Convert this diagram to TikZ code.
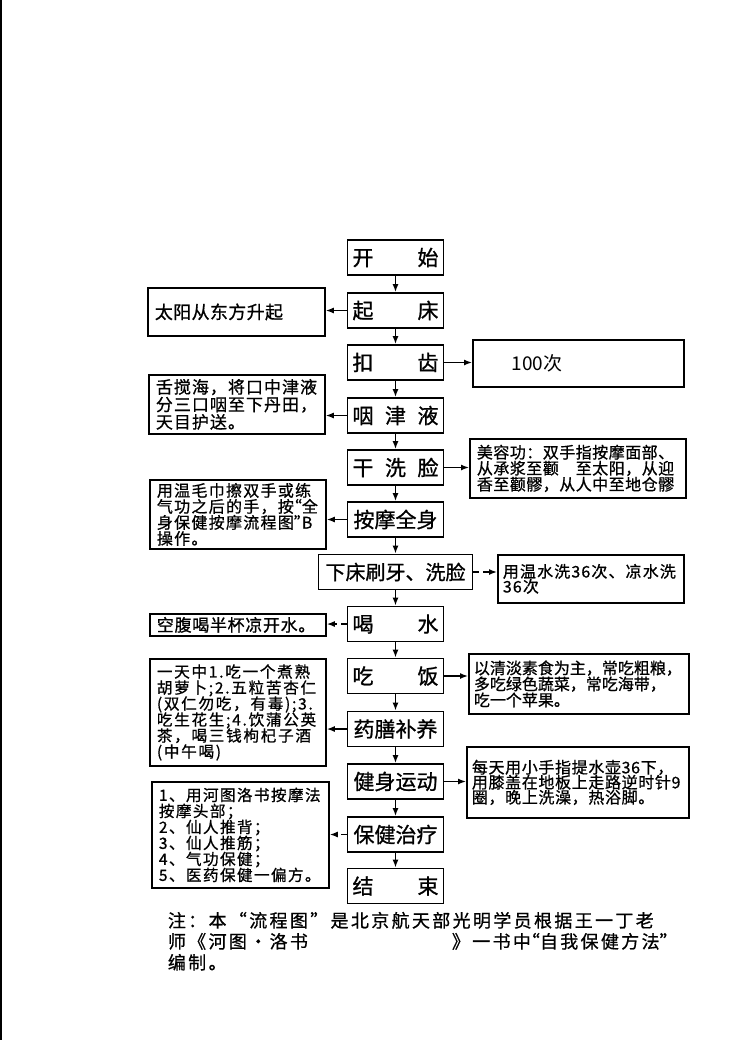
\documentclass[tikz,border=0pt]{standalone}
\usepackage{fontspec}
\setmainfont{Noto Sans CJK SC}
\usetikzlibrary{arrows.meta}
\newcommand{\notefont}[3]{\fontsize{#1}{#3}\selectfont\addfontfeature{LetterSpace=#2,FakeBold=0.8}\lineskiplimit=-5pt\relax}
\newcommand{\oq}{\makebox[0.5em][r]{“}}
\newcommand{\cq}{\makebox[0.5em][l]{”}}

\begin{document}
\begin{tikzpicture}[x=0.5pt, y=-0.5pt,
  every node/.style={line width=0.9pt, inner sep=1.5pt},
  mainbox/.style={draw, minimum width=48pt, minimum height=17.5pt, font=\fontsize{10.5}{12}\selectfont\addfontfeature{FakeBold=1}},
  notebox/.style={draw, anchor=north west, align=left, inner xsep=3.5pt, inner ysep=1.5pt},
  arr/.style={line width=0.7pt, -{Latex[length=4pt,width=3pt]}}
]
    \useasboundingbox (0,0) rectangle (752,1062);
    \draw[line width=1pt] (1,0) -- (1,1040);

    \node[mainbox] (start) at (395.5,257.5) {\makebox[43pt]{开\hfill 始}};
    \node[mainbox] (rise) at (395.5,310.5) {\makebox[43pt]{起\hfill 床}};
    \node[mainbox] (teeth) at (395.5,362.5) {\makebox[43pt]{扣\hfill 齿}};
    \node[mainbox] (saliva) at (395.5,415.5) {\makebox[43pt]{咽\hfill 津\hfill 液}};
    \node[mainbox] (dryface) at (395.5,467.5) {\makebox[43pt]{干\hfill 洗\hfill 脸}};
    \node[mainbox] (massage) at (395.5,519.5) {按摩全身};
    \node[mainbox, minimum width=77pt, font=\fontsize{10}{12}\selectfont\addfontfeature{FakeBold=1}] (wash) at (395.5,572) {下床刷牙、洗脸};
    \node[mainbox] (drink) at (395.5,624) {\makebox[43pt]{喝\hfill 水}};
    \node[mainbox] (eat) at (395.5,676) {\makebox[43pt]{吃\hfill 饭}};
    \node[mainbox] (herbal) at (395.5,729) {药膳补养};
    \node[mainbox] (exercise) at (395.5,781.5) {健身运动};
    \node[mainbox] (care) at (395.5,834.5) {保健治疗};
    \node[mainbox] (finish) at (395.5,886) {\makebox[43pt]{结\hfill 束}};

    % left notes
    \node[notebox, text width=81.5pt, minimum height=24pt, font={\notefont{9}{2}{10}}] (sunrise) at (147,287) {太阳从东方升起};
    \node[notebox, text width=81pt, minimum height=29.5pt, font={\notefont{8.5}{6}{8.75}}] (tongue) at (148,374) {舌搅海，将口中津液\\分三口咽至下丹田，\\天目护送。};
    \node[notebox, text width=81pt, minimum height=34.5pt, font={\notefont{8}{8}{8}}] (towel) at (149,479) {用温毛巾擦双手或练\\气功之后的手，按\oq 全\\身保健按摩流程图\cq B\\操作。};
    \node[notebox, text width=81pt, minimum height=11pt, font={\notefont{8.5}{4}{9}}] (coldwater) at (149,613) {空腹喝半杯凉开水。};
    \node[notebox, text width=81pt, minimum height=53.5pt, font={\notefont{7.8}{11}{8}}] (herbnote) at (149,658) {一天中1.吃一个煮熟\\胡萝卜;2.五粒苦杏仁\\(双仁勿吃，有毒);3.\\吃生花生;4.饮蒲公英\\茶，喝三钱枸杞子酒\\(中午喝)};
    \node[notebox, text width=81.5pt, minimum height=53pt, font={\notefont{7.8}{9}{8}}] (headnote) at (151,781) {1、用河图洛书按摩法\\按摩头部；\\2、仙人推背；\\3、仙人推筋；\\4、气功保健；\\5、医药保健一偏方。};

    % right notes
    \node[notebox, text width=98.5pt, minimum height=23.5pt, font=\fontsize{9.5}{11}\selectfont] (hundred) at (472,339) {\hspace*{16pt}100次};
    \node[notebox, text width=101pt, minimum height=29.5pt, font={\notefont{8}{3}{8}}] (beauty) at (469,438) {美容功：双手指按摩面部、\\从承浆至颧　至太阳，从迎\\香至颧髎，从人中至地仓髎};
    \node[notebox, inner xsep=2.5pt, text width=88pt, minimum height=24pt, font={\notefont{8}{7}{7.5}}] (rinse) at (497,554) {用温水洗36次、凉水洗\\36次};
    \node[notebox, inner xsep=2.5pt, text width=105pt, minimum height=30pt, font={\notefont{8}{0}{8}}] (diet) at (468,653) {以清淡素食为主，常吃粗粮，\\多吃绿色蔬菜，常吃海带，\\吃一个苹果。};
    \node[notebox, inner xsep=2.5pt, text width=106pt, minimum height=35.5pt, font={\notefont{8}{4}{7.5}}] (sportnote) at (466,746) {每天用小手指提水壶36下，\\用膝盖在地板上走路逆时针9\\圈，晚上洗澡，热浴脚。};

    \node[anchor=north west, align=left, inner sep=0pt, font={\notefont{9}{13}{10.5}}] (remark) at (167,911) {注：本“流程图”是北京航天部光明学员根据王一丁老\\\makebox[142pt][l]{师《河图·洛书}》一书中\oq 自我保健方法\cq\\编制。};

    \draw[arr] (start) -- (rise);
    \draw[arr] (rise) -- (teeth);
    \draw[arr] (teeth) -- (saliva);
    \draw[arr] (saliva) -- (dryface);
    \draw[arr] (dryface) -- (massage);
    \draw[arr] (massage) -- (wash);
    \draw[arr] (wash) -- (drink);
    \draw[arr] (drink) -- (eat);
    \draw[arr] (eat) -- (herbal);
    \draw[arr] (herbal) -- (exercise);
    \draw[arr] (exercise) -- (care);
    \draw[arr] (care) -- (finish);

    \draw[arr] (rise.west) -- (rise.west -| sunrise.east);
    \draw[arr] (saliva.west) -- (saliva.west -| tongue.east);
    \draw[arr] (massage.west) -- (massage.west -| towel.east);
    \draw[arr, densely dashed] (drink.west) -- (drink.west -| coldwater.east);
    \draw[arr] (herbal.west) -- (herbal.west -| herbnote.east);
    \draw[arr, densely dashed] (care.west) -- (care.west -| headnote.east);

    \draw[arr] (teeth.east) -- (teeth.east -| hundred.west);
    \draw[arr] (dryface.east) -- (dryface.east -| beauty.west);
    \draw[arr, densely dashed] (wash.east) -- (wash.east -| rinse.west);
    \draw[arr] (eat.east) -- (eat.east -| diet.west);
    \draw[arr] (exercise.east) -- (exercise.east -| sportnote.west);
\end{tikzpicture}
\end{document}
